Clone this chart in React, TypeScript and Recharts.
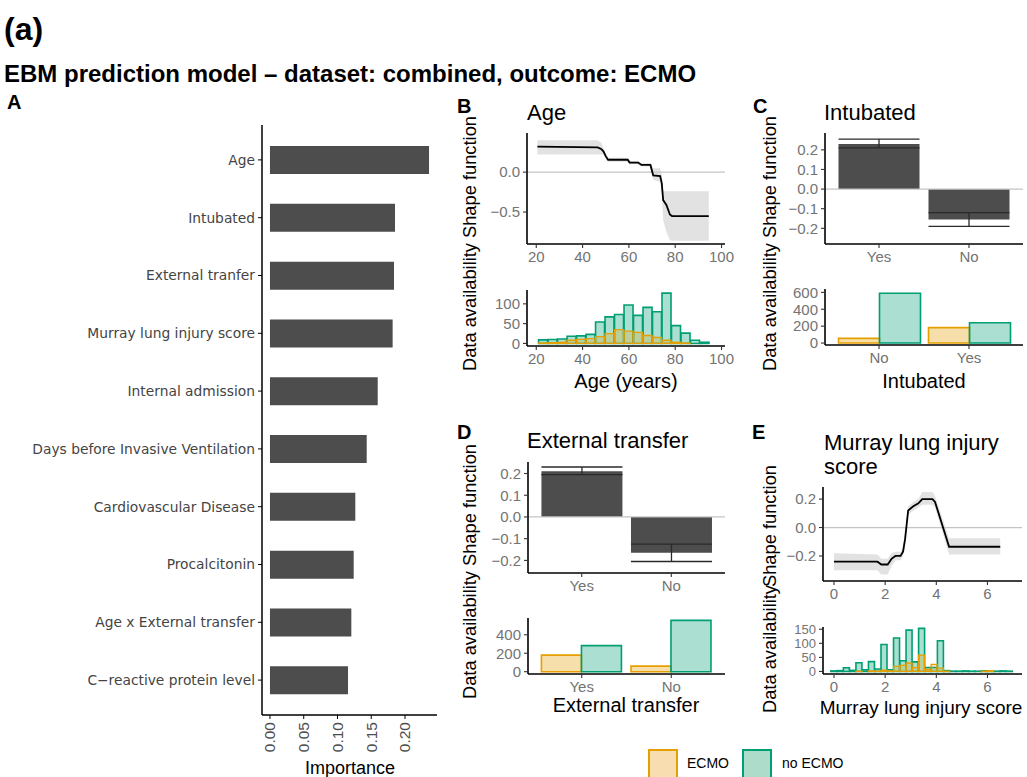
import React from 'react';
import { BarChart, Bar, XAxis, YAxis, ComposedChart, Line, Area, ReferenceLine, ErrorBar } from 'recharts';

const SANS = '"Liberation Sans", Arial, Helvetica, sans-serif';
const LABEL_FONT = '"DejaVu Sans", "Liberation Sans", sans-serif';
const ORANGE = '#E69F00';
const GREEN = '#009E73';
const BAR_GREY = '#4D4D4D';
const TICK_GREY = '#737373';

// ---------- Panel A : importance ----------
const featureNames = [
  'Age',
  'Intubated',
  'External tranfer',
  'Murray lung injury score',
  'Internal admission',
  'Days before Invasive Ventilation',
  'Cardiovascular Disease',
  'Procalcitonin',
  'Age x External transfer',
  'C\u2212reactive protein level',
];
const featureImportance = [0.2356, 0.1852, 0.1837, 0.1817, 0.1596, 0.1433, 0.1264, 0.124, 0.1205, 0.1156];
const importanceTicks = [0, 0.05, 0.1, 0.15, 0.2];

// ---------- Panel B : Age ----------
const ageGrid = [20.5, 46.5, 48, 49, 50, 51, 59.5, 60.3, 64, 65.4, 69.3, 70.5, 73.5, 74.2, 74.8, 76.2, 77.7, 78.6, 94.5];
const ageShape = [0.32, 0.31, 0.29, 0.26, 0.2, 0.155, 0.155, 0.12, 0.12, 0.09, 0.09, -0.04, -0.05, -0.14, -0.35, -0.41, -0.53, -0.55, -0.55];
const ageLower = [0.22, 0.22, 0.22, 0.22, 0.17, 0.13, 0.13, 0.1, 0.1, 0.07, 0.07, -0.1, -0.12, -0.25, -0.6, -0.75, -0.85, -0.86, -0.86];
const ageUpper = [0.4, 0.4, 0.37, 0.3, 0.23, 0.18, 0.18, 0.14, 0.14, 0.11, 0.11, 0.05, 0.05, -0.03, -0.24, -0.24, -0.24, -0.24, -0.24];
const ageShapeTicks = [-0.5, 0];
const ageTicks = [20, 40, 60, 80, 100];
const ageBinCenters = [23.05, 27.15, 31.25, 35.35, 39.45, 43.55, 47.65, 51.75, 55.85, 59.95, 64.05, 68.15, 72.25, 76.35, 80.45, 84.55, 88.65, 92.75];
const ageNoEcmo = [9, 10, 11, 18, 19, 23, 54, 67, 73, 97, 71, 91, 80, 127, 45, 26, 8, 3];
const ageEcmo = [1, 2, 3, 8, 10, 12, 17, 25, 35, 31, 28, 20, 15, 8, 3, 1, 0, 0];
const ageCountTicks = [0, 50, 100];

// ---------- Panel C : Intubated ----------
const intubShapeLevels = ['Yes', 'No'];
const intubShapeValue = [0.23, -0.155];
const intubShapeLow = [0.21, -0.19];
const intubShapeHigh = [0.255, -0.12];
const intubCountLevels = ['No', 'Yes'];
const intubEcmo = [55, 183];
const intubNoEcmo = [590, 240];
const intubShapeTicks = [-0.2, -0.1, 0, 0.1, 0.2];
const intubCountTicks = [0, 200, 400, 600];

// ---------- Panel D : External transfer ----------
const transferShapeLevels = ['Yes', 'No'];
const transferShapeValue = [0.21, -0.165];
const transferShapeLow = [0.195, -0.205];
const transferShapeHigh = [0.23, -0.125];
const transferCountLevels = ['Yes', 'No'];
const transferEcmo = [180, 60];
const transferNoEcmo = [283, 556];
const transferShapeTicks = [-0.2, -0.1, 0, 0.1, 0.2];
const transferCountTicks = [0, 200, 400];

// ---------- Panel E : Murray lung injury score ----------
const murrayGrid = [0, 1.7, 1.85, 2.1, 2.25, 2.4, 2.6, 2.7, 2.78, 2.9, 3.1, 3.3, 3.45, 3.85, 3.95, 4.5, 6.5];
const murrayShape = [-0.24, -0.24, -0.26, -0.26, -0.22, -0.2, -0.2, -0.17, -0.08, 0.12, 0.15, 0.17, 0.2, 0.2, 0.18, -0.135, -0.135];
const murrayLower = [-0.3, -0.3, -0.33, -0.33, -0.27, -0.23, -0.23, -0.2, -0.12, 0.09, 0.12, 0.14, 0.16, 0.16, 0.14, -0.19, -0.19];
const murrayUpper = [-0.18, -0.19, -0.22, -0.22, -0.18, -0.17, -0.17, -0.14, -0.04, 0.15, 0.18, 0.2, 0.25, 0.25, 0.22, -0.075, -0.075];
const murrayShapeTicks = [-0.2, 0, 0.2];
const murrayTicks = [0, 2, 4, 6];
const murrayBinCenters = [0, 0.245, 0.49, 0.735, 0.98, 1.225, 1.47, 1.715, 1.96, 2.205, 2.45, 2.695, 2.94, 3.185, 3.43, 3.675, 3.92, 4.165, 4.41, 4.655, 4.9, 5.145, 5.39, 5.635, 5.88, 6.125, 6.37, 6.615, 6.86];
const murrayNoEcmo = [2, 3, 13, 4, 31, 6, 35, 9, 96, 6, 119, 38, 147, 34, 153, 14, 14, 109, 3, 1, 1, 2, 1, 1, 2, 1, 1, 2, 1];
const murrayEcmo = [0, 0, 0, 0, 1, 0, 2, 1, 5, 2, 18, 22, 30, 14, 58, 7, 25, 12, 1, 0, 0, 0, 0, 0, 1, 3, 0, 0, 0];
const murrayCountTicks = [0, 50, 100, 150];

// ---------- derived tables ----------
const importanceData = featureNames.map((name, i) => ({ name, value: featureImportance[i] }));
const ageShapeData = ageGrid.map((x, i) => ({ x, v: ageShape[i], band: [ageLower[i], ageUpper[i]] }));
const ageHistData = ageBinCenters.map((x, i) => ({ x, noEcmo: ageNoEcmo[i], ecmo: ageEcmo[i] }));
const murrayShapeData = murrayGrid.map((x, i) => ({ x, v: murrayShape[i], band: [murrayLower[i], murrayUpper[i]] }));
const murrayHistData = murrayBinCenters.map((x, i) => ({ x, noEcmo: murrayNoEcmo[i], ecmo: murrayEcmo[i] }));
const shapeTable = (vals: number[], lo: number[], hi: number[]) =>
  vals.map((v, i) => ({ x: i + 1, v, err: [v - lo[i], hi[i] - v] }));
const countTable = (ecmo: number[], noEcmo: number[]) => ecmo.map((e, i) => ({ x: i + 1, ecmo: e, noEcmo: noEcmo[i] }));
const intubShapeData = shapeTable(intubShapeValue, intubShapeLow, intubShapeHigh);
const intubCountData = countTable(intubEcmo, intubNoEcmo);
const transferShapeData = shapeTable(transferShapeValue, transferShapeLow, transferShapeHigh);
const transferCountData = countTable(transferEcmo, transferNoEcmo);

const signed = (d: number) => (v: number) => (v < 0 ? '\u2212' : '') + Math.abs(v).toFixed(d);

const axisLine = { stroke: '#000', strokeWidth: 1.6 };
const tickLine = { stroke: '#333', strokeWidth: 1.1 };
const tickStyle = { fill: TICK_GREY, fontSize: 15, fontFamily: SANS };

const Txt = ({ x, y, size, children, bold, color, center, rotate }: any) => (
  <div
    style={{
      position: 'absolute',
      left: x,
      top: y,
      fontSize: size,
      lineHeight: 1,
      fontFamily: SANS,
      fontWeight: bold ? 700 : 400,
      color: color || '#000',
      whiteSpace: 'nowrap',
      transform: `translate(${center ? '-50%' : '0'}, -50%)${rotate ? ' rotate(-90deg)' : ''}`,
    }}
  >
    {children}
  </div>
);

const RotTick = (props: any) => {
  const { x, y, payload } = props;
  return (
    <text
      x={x}
      y={y}
      transform={`rotate(-90 ${x} ${y})`}
      textAnchor="end"
      dominantBaseline="central"
      fill="#4D4D4D"
      fontSize={15.5}
      fontFamily={SANS}
    >
      {payload.value.toFixed(2)}
    </text>
  );
};

const Place = ({ left, top, children }: any) => (
  <div style={{ position: 'absolute', left, top }}>{children}</div>
);

const ShapeCurve = ({ data, width, height, xDomain, yDomain, xTicks, yTicks, yWidth, right }: any) => (
  <ComposedChart width={width} height={height} data={data} margin={{ top: 8, right, left: 0, bottom: 0 }}>
    <XAxis type="number" dataKey="x" domain={xDomain} ticks={xTicks} height={31} allowDataOverflow
      axisLine={axisLine} tickLine={tickLine} tickSize={4} tickMargin={3} tick={tickStyle} />
    <YAxis type="number" domain={yDomain} ticks={yTicks} width={yWidth} allowDataOverflow
      axisLine={axisLine} tickLine={tickLine} tickSize={4} tickMargin={3} tick={tickStyle} tickFormatter={signed(1)} />
    <Area dataKey="band" type="linear" stroke="none" fill="#E2E2E2" fillOpacity={1} isAnimationActive={false} />
    <ReferenceLine y={0} stroke="#C4C4C4" strokeWidth={1.2} />
    <Line dataKey="v" type="linear" stroke="#000" strokeWidth={1.8} dot={false} isAnimationActive={false} />
  </ComposedChart>
);

const Histogram = ({ data, width, height, xDomain, yDomain, xTicks, yTicks, yWidth, right, yTickSize }: any) => (
  <BarChart width={width} height={height} data={data} margin={{ top: 8, right, left: 0, bottom: 0 }} barCategoryGap={0} barGap={0}>
    <XAxis xAxisId="g" type="number" dataKey="x" domain={xDomain} ticks={xTicks} height={26} allowDataOverflow
      axisLine={axisLine} tickLine={tickLine} tickSize={4} tickMargin={3} tick={tickStyle} />
    <XAxis xAxisId="o" type="number" dataKey="x" domain={xDomain} hide allowDataOverflow />
    <YAxis type="number" domain={yDomain} ticks={yTicks} width={yWidth} allowDataOverflow interval={0}
      axisLine={axisLine} tickLine={tickLine} tickSize={4} tickMargin={3}
      tick={{ ...tickStyle, fontSize: yTickSize || 15 }} />
    <Bar xAxisId="g" dataKey="noEcmo" fill={GREEN} fillOpacity={0.33} stroke={GREEN} strokeWidth={1.6} isAnimationActive={false} />
    <Bar xAxisId="o" dataKey="ecmo" fill={ORANGE} fillOpacity={0.25} stroke={ORANGE} strokeWidth={1.3} isAnimationActive={false} />
  </BarChart>
);

const ShapeBars = ({ data, levels, yDomain, yTicks, width, yWidth, right }: any) => (
  <BarChart width={width} height={150} data={data} margin={{ top: 8, right, left: 0, bottom: 0 }} barCategoryGap="5%">
    <XAxis type="number" dataKey="x" domain={[0.4, 2.6]} ticks={[1, 2]} height={31} allowDataOverflow
      tickFormatter={(v: number) => levels[v - 1]}
      axisLine={axisLine} tickLine={tickLine} tickSize={4} tickMargin={3} tick={tickStyle} />
    <YAxis type="number" domain={yDomain} ticks={yTicks} width={yWidth} allowDataOverflow interval={0}
      axisLine={axisLine} tickLine={tickLine} tickSize={4} tickMargin={3} tick={tickStyle} tickFormatter={signed(1)} />
    <ReferenceLine y={0} stroke="#C4C4C4" strokeWidth={1.2} />
    <Bar dataKey="v" fill={BAR_GREY} isAnimationActive={false}>
      <ErrorBar dataKey="err" direction="y" width={40.5} stroke="#2A2A2A" strokeWidth={1.3} />
    </Bar>
  </BarChart>
);

const CountBars = ({ data, levels, yDomain, yTicks, width, yWidth, right }: any) => (
  <BarChart width={width} height={90} data={data} margin={{ top: 8, right, left: 0, bottom: 0 }} barCategoryGap="5%" barGap={0}>
    <XAxis type="number" dataKey="x" domain={[0.4, 2.6]} ticks={[1, 2]} height={26} allowDataOverflow
      tickFormatter={(v: number) => levels[v - 1]}
      axisLine={axisLine} tickLine={tickLine} tickSize={4} tickMargin={3} tick={tickStyle} />
    <YAxis type="number" domain={yDomain} ticks={yTicks} width={yWidth} allowDataOverflow interval={0}
      axisLine={axisLine} tickLine={tickLine} tickSize={4} tickMargin={3} tick={tickStyle} />
    <Bar dataKey="ecmo" fill={ORANGE} fillOpacity={0.33} stroke={ORANGE} strokeWidth={1.6} isAnimationActive={false} />
    <Bar dataKey="noEcmo" fill={GREEN} fillOpacity={0.33} stroke={GREEN} strokeWidth={1.6} isAnimationActive={false} />
  </BarChart>
);

export default function App() {
  return (
    <div style={{ position: 'absolute', left: 0, top: 0, width: 1027, height: 777, overflow: 'hidden', background: '#fff' }}>
      <Txt x={4} y={29} size={32} bold>(a)</Txt>
      <Txt x={4} y={74} size={24} bold>EBM prediction model – dataset: combined, outcome: ECMO</Txt>

      {/* Panel A */}
      <Txt x={7} y={102} size={20} bold>A</Txt>
      <Place left={0} top={115}>
        <BarChart width={445} height={660} layout="vertical" data={importanceData}
          margin={{ top: 10, right: 8, left: 0, bottom: 0 }} barCategoryGap="26%">
          <XAxis type="number" domain={[-0.0118, 0.2474]} ticks={importanceTicks} height={60} allowDataOverflow
            axisLine={{ stroke: '#000', strokeWidth: 1.5 }} tickLine={{ stroke: '#000' }} tickSize={4} tickMargin={3} tick={<RotTick />} />
          <YAxis type="category" dataKey="name" width={262} padding={{ top: 6, bottom: 6 }} interval={0}
            axisLine={{ stroke: '#000', strokeWidth: 1.5 }} tickLine={{ stroke: '#000' }} tickSize={4} tickMargin={3}
            tick={{ fill: '#444', fontSize: 13.8, fontFamily: LABEL_FONT }} />
          <Bar dataKey="value" fill={BAR_GREY} isAnimationActive={false} />
        </BarChart>
      </Place>
      <Txt x={350} y={768} size={18} center>Importance</Txt>

      {/* Panel B */}
      <Txt x={457} y={106} size={20} bold>B</Txt>
      <Txt x={527} y={113} size={22}>Age</Txt>
      <Txt x={470} y={177} size={18.3} center rotate>Shape function</Txt>
      <Txt x={470} y={307} size={18.3} center rotate>Data availability</Txt>
      <Place left={440} top={125}>
        <ShapeCurve data={ageShapeData} width={295} height={150} xDomain={[16, 101.5]} yDomain={[-0.9, 0.49]}
          xTicks={ageTicks} yTicks={ageShapeTicks} yWidth={87} right={10} />
      </Place>
      <Place left={440} top={282}>
        <Histogram data={ageHistData} width={295} height={90} xDomain={[16, 101.5]} yDomain={[-6.5, 135]}
          xTicks={ageTicks} yTicks={ageCountTicks} yWidth={87} right={10} />
      </Place>
      <Txt x={626} y={381} size={20} center>Age (years)</Txt>

      {/* Panel C */}
      <Txt x={753} y={106} size={20} bold>C</Txt>
      <Txt x={824} y={113} size={22}>Intubated</Txt>
      <Txt x={770} y={177} size={18.3} center rotate>Shape function</Txt>
      <Txt x={770} y={307} size={18.3} center rotate>Data availability</Txt>
      <Place left={740} top={125}>
        <ShapeBars data={intubShapeData} levels={intubShapeLevels} yDomain={[-0.28, 0.286]} yTicks={intubShapeTicks}
          width={287} yWidth={85} right={4} />
      </Place>
      <Place left={740} top={281}>
        <CountBars data={intubCountData} levels={intubCountLevels} yDomain={[-23, 640]} yTicks={intubCountTicks}
          width={287} yWidth={85} right={4} />
      </Place>
      <Txt x={924} y={381} size={20} center>Intubated</Txt>

      {/* Panel D */}
      <Txt x={457} y={432} size={20} bold>D</Txt>
      <Txt x={527} y={441} size={22}>External transfer</Txt>
      <Txt x={470} y={505} size={18.3} center rotate>Shape function</Txt>
      <Txt x={470} y={635} size={18.3} center rotate>Data availability</Txt>
      <Place left={440} top={454}>
        <ShapeBars data={transferShapeData} levels={transferShapeLevels} yDomain={[-0.258, 0.253]} yTicks={transferShapeTicks}
          width={295} yWidth={88} right={10} />
      </Place>
      <Place left={440} top={610}>
        <CountBars data={transferCountData} levels={transferCountLevels} yDomain={[-25, 582]} yTicks={transferCountTicks}
          width={295} yWidth={88} right={10} />
      </Place>
      <Txt x={626} y={705} size={20} center>External transfer</Txt>

      {/* Panel E */}
      <Txt x={752} y={432} size={20} bold>E</Txt>
      <Txt x={824} y={443} size={22}>Murray lung injury</Txt>
      <Txt x={824} y={467} size={22}>score</Txt>
      <Txt x={770} y={526} size={18.3} center rotate>Shape function</Txt>
      <Txt x={770} y={649} size={18.3} center rotate>Data availability</Txt>
      <Place left={740} top={479}>
        <ShapeCurve data={murrayShapeData} width={287} height={133} xDomain={[-0.43, 7.35]} yDomain={[-0.376, 0.285]}
          xTicks={murrayTicks} yTicks={murrayShapeTicks} yWidth={83} right={5} />
      </Place>
      <Place left={740} top={619}>
        <Histogram data={murrayHistData} width={287} height={81} xDomain={[-0.43, 7.35]} yDomain={[-9, 158]}
          xTicks={murrayTicks} yTicks={murrayCountTicks} yWidth={83} right={5} yTickSize={13} />
      </Place>
      <Txt x={921} y={707} size={19} center>Murray lung injury score</Txt>

      {/* Legend */}
      <div style={{ position: 'absolute', left: 648, top: 749, width: 26, height: 26, background: '#F8DDB0', border: `2px solid ${ORANGE}` }} />
      <Txt x={687} y={763} size={14}>ECMO</Txt>
      <div style={{ position: 'absolute', left: 742, top: 749, width: 26, height: 26, background: '#AEDCCB', border: `2px solid ${GREEN}` }} />
      <Txt x={782} y={763} size={14}>no ECMO</Txt>
    </div>
  );
}
